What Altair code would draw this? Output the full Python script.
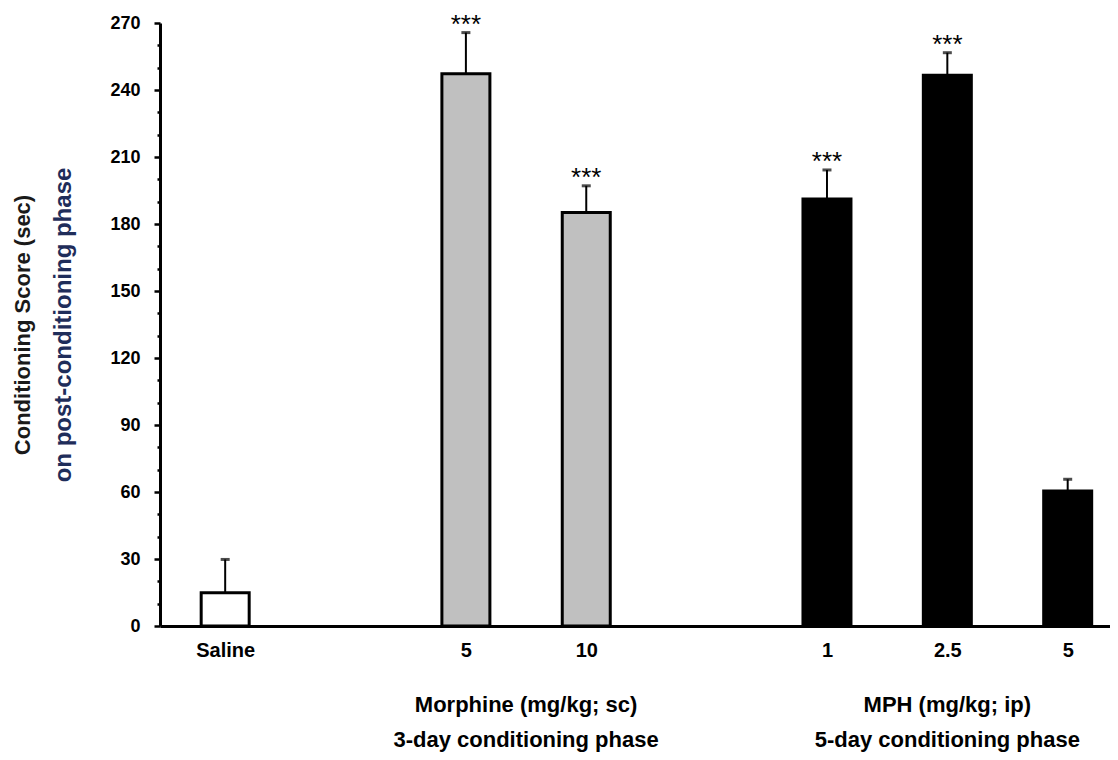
import altair as alt
import pandas as pd

# ---- data ----
positions = [0, 2, 3, 5, 6, 7]
tick_labels = ["Saline", "5", "10", "1", "2.5", "5"]
means = [14.9, 247.3, 185.2, 191.2, 246.6, 60.5]
sems = [14.9, 18.4, 11.9, 13.0, 10.1, 5.2]
fills = ["#ffffff", "#c0c0c0", "#c0c0c0", "#000000", "#000000", "#000000"]
stars = ["", "***", "***", "***", "***", ""]

group_pos = [2.5, 6]
group_line1 = ["Morphine (mg/kg; sc)", "MPH (mg/kg; ip)"]
group_line2 = ["3-day conditioning phase", "5-day conditioning phase"]

y_title1 = "Conditioning Score (sec)"
y_title2 = "on post-conditioning phase"
y_ticks = [0, 10, 20, 30, 40, 50, 60, 70, 80, 90, 100, 110, 120, 130, 140,
           150, 160, 170, 180, 190, 200, 210, 220, 230, 240, 250, 260, 270]

FONT = "Liberation Sans, Arial, sans-serif"

df = pd.DataFrame({
    "pos": positions,
    "mean": means,
    "top": [m + s for m, s in zip(means, sems)],
    "fill": fills,
    "star": stars,
})
gdf = pd.DataFrame({"gpos": group_pos, "l1": group_line1, "l2": group_line2})

label_expr = "".join(
    f"datum.value === {p} ? '{t}' : " for p, t in zip(positions, tick_labels)
) + "''"

xscale = alt.Scale(domain=[-0.5, 7.31], nice=False, zero=False)
yscale = alt.Scale(domain=[0, 270], nice=False)

x_axis = alt.Axis(
    values=positions, labelExpr=label_expr, ticks=False, grid=False,
    domainColor="black", domainWidth=3, labelFont=FONT, labelFontSize=20,
    labelFontWeight="bold", labelColor="black", labelPadding=14,
    labelFlush=False, labelOverlap=False, title=None,
)
y_axis = alt.Axis(
    values=y_ticks, labelExpr="datum.value % 30 === 0 ? datum.label : ''",
    grid=False, domainColor="black", domainWidth=3, tickColor="black",
    tickWidth=2.5,
    tickSize={"condition": {"test": "datum.value % 30 === 0", "value": 6}, "value": 3},
    labelFont=FONT, labelFontSize=18, labelFontWeight="bold", labelColor="black",
    labelPadding=14, labelOverlap=False, title=None,
)

X = alt.X("pos:Q", scale=xscale, axis=x_axis)
base = alt.Chart(df)

bars = base.mark_bar(size=48, stroke="black", strokeWidth=3).encode(
    x=X,
    y=alt.Y("mean:Q", scale=yscale, axis=y_axis),
    fill=alt.Fill("fill:N", scale=None),
)
err_line = base.mark_rule(color="black", strokeWidth=2).encode(
    x=X,
    y=alt.Y("mean:Q", scale=yscale, axis=y_axis),
    y2="top:Q",
)
err_cap = base.mark_tick(color="black", orient="horizontal", size=9, thickness=3).encode(
    x=X,
    y=alt.Y("top:Q", scale=yscale, axis=y_axis),
)
star_text = base.mark_text(font=FONT, fontSize=26, color="black",
                           baseline="alphabetic", dy=0).encode(
    x=X,
    y=alt.Y("top:Q", scale=yscale, axis=y_axis),
    text="star:N",
)

GX = alt.X("gpos:Q", scale=xscale, axis=x_axis)
g1 = alt.Chart(gdf).mark_text(font=FONT, fontSize=22, fontWeight="bold",
                              color="black", baseline="alphabetic").encode(
    x=GX, y=alt.value(689), text="l1:N")
g2 = alt.Chart(gdf).mark_text(font=FONT, fontSize=22, fontWeight="bold",
                              color="black", baseline="alphabetic").encode(
    x=GX, y=alt.value(724), text="l2:N")

t1 = alt.Chart(pd.DataFrame({"t": [y_title1]})).mark_text(
    font=FONT, fontSize=22, fontWeight="bold", color="#1a1a1a", angle=270,
    baseline="middle", align="center").encode(
    x=alt.value(-137), y=alt.value(302), text="t:N")
t2 = alt.Chart(pd.DataFrame({"t": [y_title2]})).mark_text(
    font=FONT, fontSize=24, fontWeight="bold", color="#1f2d5a", angle=270,
    baseline="middle", align="center").encode(
    x=alt.value(-96), y=alt.value(302), text="t:N")

chart = alt.layer(err_line, err_cap, bars, star_text, g1, g2, t1, t2).properties(
    width=950, height=603,
    padding={"left": 152, "top": 15, "right": 0, "bottom": 126},
    autosize=alt.AutoSizeParams(type="none"),
).configure_view(stroke=None)

chart.save("out.html", embed_options={"renderer": "svg", "actions": False})
